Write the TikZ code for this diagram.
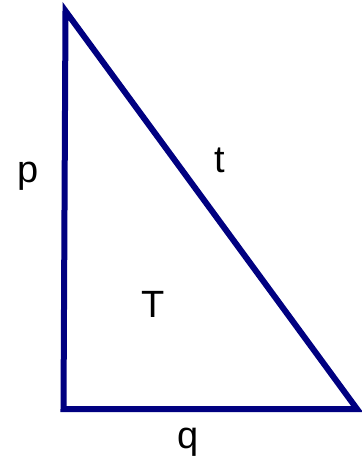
\documentclass[tikz,border=0pt]{standalone}
\usepackage{fontspec}
\setmainfont{Liberation Sans}
\usepackage{xcolor}
\usepackage{tikz}
\definecolor{trinavy}{RGB}{0,0,128}
\tikzset{
  trilabel/.style={font=\fontsize{38}{41}\selectfont, color=black, inner sep=0pt}
}

\begin{document}
\begin{tikzpicture}[x=1pt, y=-1pt]
% frame
\useasboundingbox (0,0) rectangle (362,464);

% ---- triangle ----
\coordinate (top) at (65.5,11);
\coordinate (bl)  at (63.5,409);
\coordinate (br)  at (357,409);
\draw[trinavy, line width=6pt, line join=miter] (top) -- (bl) -- (br) -- cycle;

% ---- labels ----
\node[trilabel] (lp) at (28.5,176) {p};
\node[trilabel] (lt) at (220,160)  {t};
\node[trilabel] (lT) at (153,304)  {T};
\node[trilabel] (lq) at (188,442)  {q};
\end{tikzpicture}
\end{document}
